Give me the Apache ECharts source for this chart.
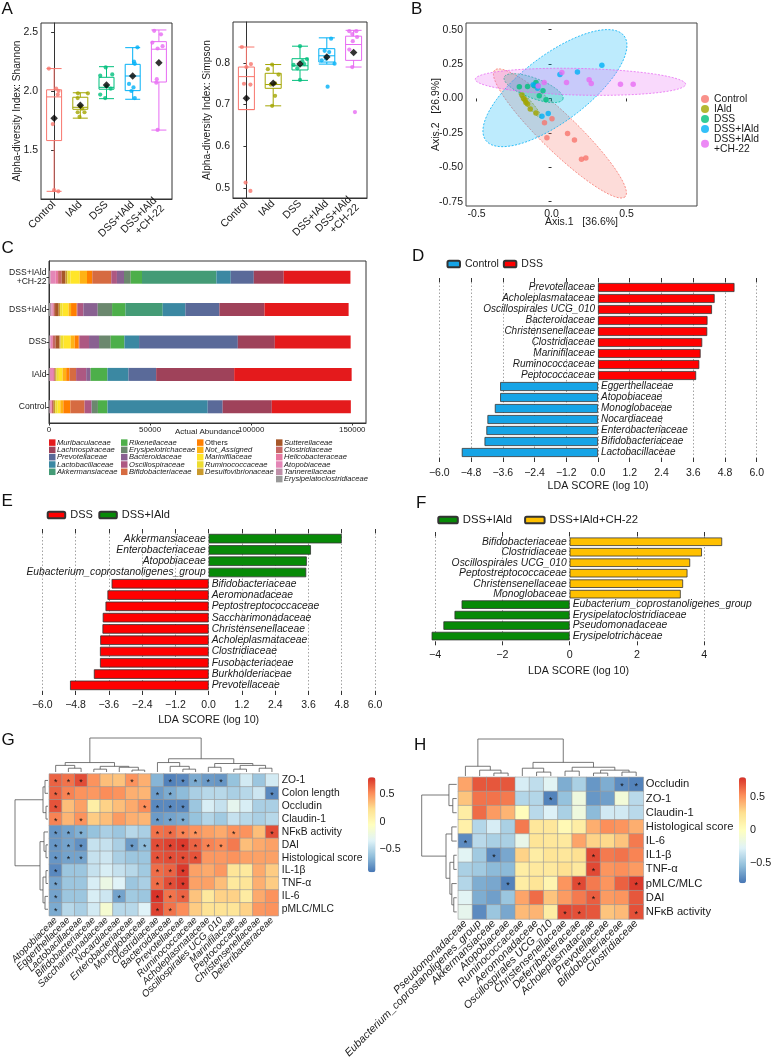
<!DOCTYPE html>
<html><head><meta charset="utf-8">
<script src="https://cdn.jsdelivr.net/npm/echarts@6/dist/echarts.min.js"></script>
<style>html,body{margin:0;padding:0;background:#fff}#c{width:772px;height:1063px}</style>
</head><body><div id="c"></div>
<script>
const FONT = '"Liberation Sans", Arial, Helvetica, sans-serif';
const MINUS = '\u2212';
const TXT = '#1a1a1a';

// ---------- Panel A ----------
const groups = ['Control','IAld','DSS','DSS+IAld','DSS+IAld\n+CH-22'];
const groupColors = ['#F8766D','#A3A500','#00BF7D','#00B0F6','#E76BF3'];
const shannonBox = [[1.15,1.58,1.95,2.01,2.19],[1.77,1.845,1.862,1.947,1.985],[1.935,2.015,2.031,2.116,2.206],[1.93,2.003,2.127,2.226,2.367],[1.669,2.076,2.354,2.418,2.517]];
const shannonMean = [1.77,1.88,2.05,2.127,2.24];
const shannonPoints = [
  [[-0.2,2.19],[0.08,2.02],[0.17,2.0],[0.14,1.97],[-0.05,1.72],[0,1.16],[0.16,1.15]],
  [[-0.09,1.98],[0.29,1.98],[-0.1,1.94],[0,1.87],[0.07,1.85],[-0.1,1.82],[0.16,1.82],[-0.03,1.78]],
  [[-0.03,2.20],[0.22,2.14],[-0.24,2.13],[0,2.04],[0.16,2.02],[-0.24,1.97],[-0.05,1.94]],
  [[0.18,2.37],[0.05,2.25],[0.08,2.23],[-0.14,2.06],[0.03,2.03],[-0.05,2.0],[0.08,1.94]],
  [[-0.18,2.51],[0.08,2.48],[-0.25,2.41],[-0.05,2.36],[0.14,2.38],[-0.08,2.10],[-0.1,2.07],[-0.05,1.67]]
];
const shannonTicks = [1.5,2.0,2.5];
const simpsonBox = [[0.688,0.688,0.767,0.790,0.838],[0.697,0.739,0.748,0.775,0.796],[0.758,0.783,0.793,0.810,0.840],[0.797,0.802,0.817,0.834,0.860],[0.790,0.806,0.844,0.864,0.878]];
const simpsonMean = [0.715,0.751,0.797,0.814,0.825];
const simpsonPoints = [
  [[-0.17,0.838],[0.17,0.797],[0,0.790],[-0.09,0.750],[0.15,0.748],[-0.03,0.513],[0.15,0.493]],
  [[-0.04,0.796],[-0.2,0.785],[0.2,0.772],[0.07,0.751],[-0.09,0.748],[0.07,0.721],[-0.04,0.697]],
  [[0,0.840],[0.26,0.809],[0.09,0.804],[0.16,0.797],[-0.24,0.795],[-0.1,0.787],[0,0.759]],
  [[0.16,0.858],[-0.08,0.829],[0.09,0.826],[-0.03,0.810],[-0.19,0.806],[0.29,0.798],[0.03,0.743]],
  [[-0.16,0.876],[0.1,0.876],[-0.05,0.869],[0.13,0.862],[-0.03,0.852],[-0.16,0.832],[-0.05,0.790],[0.05,0.682]]
];
const simpsonTicks = [0.5,0.6,0.7,0.8];

// ---------- Panel B ----------
const pcoaPoints = [
  [[-0.031,-0.285],[0.107,-0.254],[0.153,-0.302],[0.2,-0.442],[0.229,-0.432],[-0.047,-0.176],[0.003,-0.147]],
  [[-0.197,0.025],[-0.187,0.0],[-0.177,-0.012],[-0.171,-0.029],[-0.16,-0.041],[-0.142,-0.077],[-0.104,-0.106]],
  [[-0.215,0.085],[-0.16,0.087],[-0.115,0.092],[-0.104,0.116],[-0.057,0.056],[-0.082,0.02],[-0.037,-0.009]],
  [[0.336,0.242],[0.173,0.193],[0.056,0.174],[-0.091,0.092],[-0.122,0.099],[-0.093,0.075],[-0.022,-0.109],[-0.064,-0.13]],
  [[0.069,0.188],[0.1,0.116],[0.251,0.136],[0.265,0.109],[0.46,0.104],[0.545,0.104],[-0.049,0.116],[-0.089,0.09]]
];
// ellipse: centre x, centre y, semi-axis u (x,y), conjugate semi-axis v (x,y)
const pcoaEllipses = [
  [0.056,-0.254,0.436,-0.459,-0.084,-0.097],
  [-0.144,-0.046,0.073,-0.092,-0.015,-0.014],
  [-0.12,0.075,0.196,-0.080,-0.023,-0.068],
  [0.0227,0.075,0.462,0.379,0.133,-0.193],
  [0.193,0.121,0.702,-0.017,-0.0067,0.097]
];
const pcoaXTicks = [-0.5,0,0.5];
const pcoaYTicks = [-0.75,-0.5,-0.25,0,0.25,0.5];

// ---------- Panel C ----------
const abundanceGroups = ['Control','IAld','DSS','DSS+IAld','DSS+IAld\n+CH-22'];
const families = ['Muribaculaceae','Lachnospiraceae','Prevotellaceae','Lactobacillaceae','Akkermansiaceae','Rikenellaceae','Erysipelotrichaceae','Bacteroidaceae','Oscillospiraceae','Bifidobacteriaceae','Others','Not_Assigned','Marinifilaceae','Ruminococcaceae','Desulfovibrionaceae','Sutterellaceae','Clostridiaceae','Helicobacteraceae','Atopobiaceae','Tannerellaceae','Erysipelatoclostridiaceae'];
const familyColors = ['#E41A1C','#9F425A','#5A6A99','#3B88A2','#449B76','#4DAF4A','#6B886E','#896191','#AD5882','#D66B41','#FF7F00','#FFB214','#FFE529','#EDDD31','#CA9A2C','#A65628','#C66764','#E778A1','#E486B7','#BF8FA8','#999999'];
const familyAbundance = [
  [39100,58100,37500,41600,33000],
  [24300,38600,18300,22300,14800],
  [7400,13700,48850,16850,11400],
  [49500,10300,7150,11200,7100],
  [200,300,300,18450,36800],
  [4600,8000,6600,6600,5600],
  [3000,300,5750,7100,3300],
  [300,2000,4950,7100,3500],
  [3300,5000,4800,3000,2800],
  [7000,3300,300,300,9400],
  [3500,1600,2000,2800,2600],
  [1500,1800,2000,1200,3600],
  [1300,1800,3500,3000,4600],
  [1200,1200,1500,1200,1500],
  [800,600,500,700,1000],
  [300,300,2000,1800,1800],
  [600,300,1300,800,1800],
  [300,500,400,300,1200],
  [500,1500,800,600,2500],
  [300,300,400,800,500],
  [300,200,300,500,300]
];
const abundanceTicks = [0,50000,100000,150000];

// ---------- Panels D, E, F ----------
const dTaxa = ['Prevotellaceae','Acholeplasmataceae','Oscillospirales UCG_010','Bacteroidaceae','Christensenellaceae','Clostridiaceae','Marinifilaceae','Ruminococcaceae','Peptococcaceae','Eggerthellaceae','Atopobiaceae','Monoglobaceae','Nocardiaceae','Enterobacteriaceae','Bifidobacteriaceae','Lactobacillaceae'];
const dScores = [5.16,4.41,4.31,4.14,4.13,3.94,3.88,3.83,3.71,-3.70,-3.70,-3.90,-4.18,-4.22,-4.29,-5.15];
const dGroups = ['Control','DSS'];
const eTaxa = ['Akkermansiaceae','Enterobacteriaceae','Atopobiaceae','Eubacterium_coprostanoligenes_group','Bifidobacteriaceae','Aeromonadaceae','Peptostreptococcaceae','Saccharimonadaceae','Christensenellaceae','Acholeplasmataceae','Clostridiaceae','Fusobacteriaceae','Burkholderiaceae','Prevotellaceae'];
const eScores = [4.80,3.69,3.54,3.52,-3.50,-3.65,-3.72,-3.82,-3.83,-3.91,-3.92,-3.92,-4.14,-5.00];
const eGroups = ['DSS','DSS+IAld'];
const fTaxa = ['Bifidobacteriaceae','Clostridiaceae','Oscillospirales UCG_010','Peptostreptococcaceae','Christensenellaceae','Monoglobaceae','Eubacterium_coprostanoligenes_group','Erysipelatoclostridiaceae','Pseudomonadaceae','Erysipelotrichaceae'];
const fScores = [4.53,3.93,3.58,3.50,3.37,3.30,-3.21,-3.42,-3.75,-4.10];
const fGroups = ['DSS+IAld','DSS+IAld+CH-22'];
const fTicks = [-4,-2,0,2,4];

// ---------- Panel G ----------
const gRows = ['ZO-1','Colon length','Occludin','Claudin-1','NF\u03baB activity','DAI','Histological score','IL-1\u03b2','TNF-\u03b1','IL-6','pMLC/MLC'];
const gCols = ['Atopobiaceae','Eggerthellaceae','Lactobacillaceae','Bifidobacteriaceae','Saccharimonadaceae','Nocardiaceae','Enterobacteriaceae','Monoglobaceae','Clostridiaceae','Bacteroidaceae','Prevotellaceae','Ruminococcaceae','Acholeplasmataceae','Oscillospirales UCG_010','Marinifilaceae','Peptococcaceae','Christensenellaceae','Deferribacteraceae'];
const gValues = [
  [0.65,0.6,0.72,0.5,0.35,0.33,0.5,0.4,-0.68,-0.88,-0.85,-0.72,-0.78,-0.8,-0.62,-0.4,-0.6,-0.4],
  [0.65,0.55,0.5,0.48,0.52,0.5,0.4,0.38,-0.78,-0.72,-0.65,-0.55,-0.5,-0.5,-0.55,-0.5,-0.42,-0.85],
  [0.7,0.35,0.45,0.1,0.28,0.35,0.42,0.52,-0.85,-0.85,-0.85,-0.6,-0.38,-0.45,-0.3,-0.38,-0.55,-0.55],
  [0.55,0.38,0.5,0.3,0.35,0.47,0.4,0.38,-0.78,-0.75,-0.72,-0.62,-0.52,-0.58,-0.45,-0.5,-0.55,-0.5],
  [-0.8,-0.75,-0.7,-0.62,-0.55,-0.6,-0.5,-0.55,0.6,0.62,0.55,0.5,0.45,0.42,0.5,0.5,0.35,0.72],
  [-0.8,-0.75,-0.82,-0.45,-0.45,-0.55,-0.78,-0.65,0.72,0.75,0.78,0.65,0.55,0.52,0.58,0.35,0.42,0.45],
  [-0.8,-0.75,-0.75,-0.45,-0.42,-0.55,-0.6,-0.6,0.7,0.72,0.72,0.7,0.48,0.48,0.5,0.45,0.45,0.45],
  [-0.85,-0.6,-0.6,-0.45,-0.38,-0.45,-0.5,-0.58,0.62,0.65,0.78,0.45,0.42,0.48,0.18,0.15,0.42,0.3],
  [-0.75,-0.6,-0.6,-0.38,-0.25,-0.35,-0.6,-0.55,0.62,0.72,0.78,0.45,0.45,0.35,0.15,0.18,0.4,0.3],
  [-0.75,-0.6,-0.6,-0.38,-0.42,-0.75,-0.58,-0.6,0.8,0.6,0.65,0.33,0.15,0.28,0.28,0.12,0.42,0.5],
  [-0.72,-0.5,-0.55,-0.4,-0.15,-0.5,-0.5,-0.35,0.75,0.6,0.52,0.3,0.2,0.2,0.18,0.28,0.48,0.5]
];
const gStars = [[0,1,2,6,9,10,11,12,13],[0,1,8,9,17],[0,7,8,9,10],[0,2,8,9,10],[0,1,2,8,9,10,11,14,17],[0,1,2,6,7,8,9,10,11,12,13],[0,1,2,8,9,10,11],[0,8,9,10],[0,8,9,10],[0,5,8,9,10],[0,8,9]];
const gRange = [-0.93,0.81];
const gColTree = [[[0,[1,2,4],7],[[3,4,3],[5,[6,7,2],5],6],10],[[8,[9,[10,11,3],6],10],[[12,13,5],[[14,15,3],[16,17,4],7],9],14],36];
const gRowTree = [[[0,1,3],[2,3,2],5],[[4,[5,6,2],4],[[7,8,2],[9,10,3],5],8],33];

// ---------- Panel H ----------
const hRows = ['Occludin','ZO-1','Claudin-1','Histological score','IL-6','IL1-\u03b2','TNF-\u03b1','pMLC/MLC','DAI','NF\u03baB activity'];
const hCols = ['Pseudomonadaceae','Eubacterium_coprostanoligenes_group','Akkermansiaceae','Atopobiaceae','Ruminococcaceae','Aeromonadaceae','Oscillospirales UCG_010','Christensenellaceae','Deferribacteraceae','Acholeplasmataceae','Prevotellaceae','Bifidobacteriaceae','Clostridiaceae'];
const hValues = [
  [0.45,0.68,0.68,0.68,-0.3,-0.38,-0.25,-0.6,-0.45,-0.68,-0.6,-0.72,-0.75],
  [0.35,0.6,0.6,0.58,-0.42,-0.42,-0.75,-0.52,-0.15,-0.68,-0.65,-0.12,-0.4],
  [0.15,0.62,0.48,0.4,0.02,-0.4,-0.28,-0.45,-0.15,-0.55,-0.32,-0.32,-0.4],
  [0.12,-0.42,-0.3,-0.45,0.58,0.2,0.2,0.05,0.15,0.42,0.52,0.5,0.42],
  [-0.72,-0.4,-0.45,-0.45,-0.2,0.22,0.2,0.18,0.45,0.3,0.28,0.35,0.58],
  [-0.25,-0.48,-0.72,-0.62,0.3,0.15,0.22,0.2,0.25,0.72,0.58,0.6,0.55],
  [-0.45,-0.48,-0.55,-0.55,0.15,0.18,0.18,0.25,0.18,0.72,0.5,0.52,0.48],
  [-0.42,-0.6,-0.62,-0.75,0.15,0.22,0.08,0.5,0.72,0.58,0.5,0.65,0.76],
  [-0.25,-0.6,-0.65,-0.5,0.45,0.62,0.35,0.48,0.58,0.66,0.48,0.5,0.68],
  [-0.22,-0.72,-0.5,-0.62,0.38,0.4,0.15,0.72,0.7,0.68,0.35,0.38,0.7]
];
const hStars = [[11,12],[6],[],[],[0],[2,9],[9],[3,8,12],[9],[7,8,12]];
const hRange = [-0.80,0.79];
const hColTree = [[0,[1,[2,3,3],6],10],[[4,[5,6,4],8],[[7,8,5],[[9,10,3],[11,12,4],6],9],14],38];
const hRowTree = [[0,[1,2,4],8],[[3,4,5],[[5,6,3],[7,[8,9,3],5],7],11],36];
const barTicks = [-0.5,0,0.5];
const heatColors = ['#4575B4','#91BFDB','#E0F3F8','#FFFFBF','#FEE090','#FC8D59','#D73027'];

// ---------- helpers ----------
function hexA(hex, a) {
  const n = parseInt(hex.slice(1), 16);
  return 'rgba(' + ((n >> 16) & 255) + ',' + ((n >> 8) & 255) + ',' + (n & 255) + ',' + a + ')';
}
function pick(ticks, fmt) { return v => ticks.some(t => Math.abs(t - v) < 1e-6) ? fmt(v) : ''; }
const fmtMinus = d => v => (v < -1e-9 ? MINUS : '') + Math.abs(v).toFixed(d);
const stripName = n => n.indexOf(':') >= 0 ? n.slice(n.indexOf(':') + 1) : n;

const grids = [
  {left:41, top:23, width:131, height:176, show:true, borderColor:'#333', borderWidth:1},
  {left:233, top:22, width:134, height:176, show:true, borderColor:'#333', borderWidth:1},
  {left:466, top:23, width:231, height:183, show:true, borderColor:'#444', borderWidth:1},
  {left:49, top:261, width:317, height:162, show:true, borderColor:'#333', borderWidth:1},
  {left:439.3, top:282, width:317.4, height:176},
  {left:42.3, top:533, width:332.7, height:158},
  {left:422, top:536.5, width:313, height:104.8},
  {left:49.3, top:774, width:229, height:141.7},
  {left:49.3, top:738, width:229, height:34},
  {left:15, top:774, width:33, height:141.7},
  {left:368, top:777.3, width:7.5, height:95},
  {left:458.3, top:777.3, width:185, height:141.7},
  {left:458.3, top:739, width:185, height:37},
  {left:421.7, top:777.3, width:35, height:141.7},
  {left:739, top:777.3, width:7, height:106}
].map(g => Object.assign({outerBoundsMode:'none', containLabel:false}, g));

function boxXCat(gi) {
  return {gridIndex:gi, type:'category', data:groups, axisLine:{show:true, lineStyle:{color:'#333'}},
    axisTick:{alignWithLabel:true, length:3, lineStyle:{color:'#333'}},
    axisLabel:{interval:0, rotate:45, fontSize:10.5, color:TXT, margin:4, lineHeight:11, fontFamily:FONT, hideOverlap:false}};
}
function boxY(gi, min, max, ticks, split, name, gap) {
  return {gridIndex:gi, type:'value', min, max, splitNumber:split,
    axisLine:{show:true, lineStyle:{color:'#333'}}, axisTick:{show:true, length:3, customValues:ticks, lineStyle:{color:'#333'}},
    axisLabel:{customValues:ticks, formatter:pick(ticks, v => v.toFixed(1)), fontSize:10.5, color:TXT, margin:3, fontFamily:FONT, hideOverlap:false},
    splitLine:{show:false}, name, nameLocation:'middle', nameGap:gap, nameMoveOverlap:false, nameTextStyle:{fontSize:10.2, color:TXT, fontFamily:FONT}};
}
function ldaX(gi, min, max, pos, opts) {
  return Object.assign({gridIndex:gi, type:'value', min, max, position:pos, axisLine:{show:false},
    axisTick:{show:true, length:4, lineStyle:{color:'#333', width:1}}, splitLine:{show:false}}, opts);
}
const ldaName = {name:'LDA SCORE (log 10)', nameLocation:'middle', nameMoveOverlap:false, nameTextStyle:{fontSize:10.7, color:TXT, fontFamily:FONT}};
const dotted = {show:true, lineStyle:{type:[1.5,2], color:'#8c8c8c', width:0.8}};

const xAxis = [
  boxXCat(0), {gridIndex:0, type:'value', min:-0.5, max:4.5, show:false},
  boxXCat(1), {gridIndex:1, type:'value', min:-0.5, max:4.5, show:false},
  {gridIndex:2, type:'value', min:-0.571, max:0.971, splitNumber:3, axisLine:{show:false},
    axisTick:{show:true, length:3, customValues:pcoaXTicks, lineStyle:{color:'#333'}},
    axisLabel:{customValues:pcoaXTicks, formatter:pick(pcoaXTicks, v => v.toFixed(1)), fontSize:10.5, color:TXT, margin:3, hideOverlap:false},
    splitLine:{show:false}, name:'Axis.1   [36.6%]', nameLocation:'middle', nameGap:10.5, nameMoveOverlap:false, nameTextStyle:{fontSize:10.5, color:TXT}},
  {gridIndex:3, type:'value', min:0, max:156800, splitNumber:3, axisLine:{show:true, lineStyle:{color:'#333'}},
    axisTick:{show:true, length:2.5, customValues:abundanceTicks, lineStyle:{color:'#333'}},
    axisLabel:{customValues:abundanceTicks, formatter:pick(abundanceTicks, v => String(v)), fontSize:7.9, color:TXT, margin:2.5, hideOverlap:false},
    splitLine:{show:false}, name:'Actual Abundance', nameLocation:'middle', nameGap:5, nameMoveOverlap:false, nameTextStyle:{fontSize:8, color:TXT}},
  ldaX(4, -6, 6, 'bottom', Object.assign({interval:1.2, axisLabel:{formatter:fmtMinus(1), fontSize:10.5, color:TXT, margin:9.5, hideOverlap:false}, splitLine:dotted, nameGap:23}, ldaName)),
  ldaX(4, -6, 6, 'top', {interval:1.2, axisLabel:{show:false}}),
  ldaX(5, -6, 6, 'bottom', Object.assign({interval:1.2, axisLabel:{formatter:fmtMinus(1), fontSize:10.5, color:TXT, margin:9, hideOverlap:false}, splitLine:dotted, nameGap:24}, ldaName)),
  ldaX(5, -6, 6, 'top', {interval:1.2, axisLabel:{show:false}}),
  ldaX(6, -4.386, 4.912, 'bottom', Object.assign({axisTick:{show:true, length:4, customValues:fTicks, lineStyle:{color:'#333'}},
    axisLabel:{customValues:fTicks, formatter:pick(fTicks, fmtMinus(0)), fontSize:10.7, color:TXT, margin:8.5, hideOverlap:false}, nameGap:24.5}, ldaName)),
  ldaX(6, -4.386, 4.912, 'top', {axisTick:{show:true, length:4.5, customValues:fTicks, lineStyle:{color:'#333'}}, axisLabel:{show:false}}),
  {gridIndex:7, type:'category', data:gCols, axisLine:{show:false}, axisTick:{show:false},
    axisLabel:{rotate:45, interval:0, fontSize:9.8, fontStyle:'italic', color:TXT, margin:3, hideOverlap:false}},
  {gridIndex:8, type:'value', min:0, max:gCols.length, show:false},
  {gridIndex:9, type:'value', min:0, max:33, inverse:true, show:false},
  {gridIndex:10, type:'value', show:false},
  {gridIndex:11, type:'category', data:hCols, axisLine:{show:false}, axisTick:{show:false},
    axisLabel:{rotate:45, interval:0, fontSize:10.8, fontStyle:'italic', color:TXT, margin:3, hideOverlap:false}},
  {gridIndex:12, type:'value', min:0, max:hCols.length, show:false},
  {gridIndex:13, type:'value', min:0, max:36, inverse:true, show:false},
  {gridIndex:14, type:'value', show:false}
];

function barAxis(gi, min, max, split) {
  return {gridIndex:gi, type:'value', min, max, splitNumber:split, position:'right', axisLine:{show:false}, axisTick:{show:false},
    splitLine:{show:false}, axisLabel:{customValues:barTicks, formatter:pick(barTicks, v => Math.abs(v) < 1e-9 ? '0' : fmtMinus(1)(v)), fontSize:10.8, color:TXT, margin:4, hideOverlap:false}};
}
const yAxis = [
  boxY(0, 1.085, 2.576, shannonTicks, 3, 'Alpha-diversity Index: Shannon', 19),
  boxY(1, 0.476, 0.898, simpsonTicks, 4, 'Alpha-diversity Index: Simpson', 21),
  {gridIndex:2, type:'value', min:-0.781, max:0.548, axisLine:{show:false},
    axisTick:{show:true, length:3, customValues:pcoaYTicks, lineStyle:{color:'#333'}},
    axisLabel:{customValues:pcoaYTicks, formatter:pick(pcoaYTicks, v => v.toFixed(2)), fontSize:10.5, color:TXT, margin:3, hideOverlap:false},
    splitLine:{show:false}, name:'Axis.2   [26.9%]', nameLocation:'middle', nameGap:24, nameMoveOverlap:false, nameTextStyle:{fontSize:10.5, color:TXT}},
  {gridIndex:3, type:'category', data:abundanceGroups, axisLine:{show:true, lineStyle:{color:'#333'}},
    axisTick:{show:true, alignWithLabel:true, length:2.5, lineStyle:{color:'#333'}}, axisLabel:{interval:0, fontSize:8.6, color:TXT, margin:2.5, lineHeight:9.5, hideOverlap:false}},
  {gridIndex:4, type:'category', data:dTaxa, inverse:true, show:false},
  {gridIndex:5, type:'category', data:eTaxa, inverse:true, show:false},
  {gridIndex:6, type:'category', data:fTaxa, inverse:true, show:false},
  {gridIndex:7, type:'category', data:gRows, inverse:true, position:'right', axisLine:{show:false}, axisTick:{show:false},
    axisLabel:{interval:0, fontSize:10.3, color:TXT, margin:3.5, hideOverlap:false}},
  {gridIndex:8, type:'value', min:0, max:36, show:false},
  {gridIndex:9, type:'value', min:0, max:gRows.length, inverse:true, show:false},
  barAxis(10, gRange[0], gRange[1], 3),
  {gridIndex:11, type:'category', data:hRows, inverse:true, position:'right', axisLine:{show:false}, axisTick:{show:false},
    axisLabel:{interval:0, fontSize:11.2, color:TXT, margin:2.5, hideOverlap:false}},
  {gridIndex:12, type:'value', min:0, max:38, show:false},
  {gridIndex:13, type:'value', min:0, max:hRows.length, inverse:true, show:false},
  barAxis(14, hRange[0], hRange[1], 3)
];

const series = [];
function boxPanel(box, means, pts, xc, xv, y, bw) {
  series.push({type:'boxplot', xAxisIndex:xc, yAxisIndex:y, boxWidth:[bw,bw], silent:true,
    data: box.map((b,i) => ({value:b, itemStyle:{color:'rgba(255,255,255,0)', borderColor:groupColors[i], borderWidth:1}}))});
  series.push({type:'scatter', xAxisIndex:xv, yAxisIndex:y, symbolSize:4.2, silent:true, z:3,
    data: pts.flatMap((g,i) => g.map(p => ({value:[i + p[0], p[1]], itemStyle:{color:groupColors[i]}})))});
  series.push({type:'scatter', xAxisIndex:xv, yAxisIndex:y, symbol:'diamond', symbolSize:7.5, silent:true, z:4,
    itemStyle:{color:'#000'}, data: means.map((m,i) => [i, m])});
}
boxPanel(shannonBox, shannonMean, shannonPoints, 0, 1, 0, 15);
boxPanel(simpsonBox, simpsonMean, simpsonPoints, 2, 3, 1, 16);

// B
series.push({type:'custom', xAxisIndex:4, yAxisIndex:2, silent:true, z:1, data:pcoaEllipses, encode:{x:0, y:1},
  renderItem: (params, api) => {
    const c = [api.value(0), api.value(1)], u = [api.value(2), api.value(3)], v = [api.value(4), api.value(5)];
    const pts = [];
    for (let k = 0; k <= 90; k++) {
      const t = k / 90 * 2 * Math.PI;
      pts.push(api.coord([c[0] + u[0]*Math.cos(t) + v[0]*Math.sin(t), c[1] + u[1]*Math.cos(t) + v[1]*Math.sin(t)]));
    }
    const col = groupColors[params.dataIndex];
    return {type:'polygon', shape:{points:pts}, style:{fill:hexA(col, 0.26), stroke:col, lineWidth:0.8, lineDash:[2,1.5]}};
  }});
groups.forEach((g, i) => series.push({name:'B:' + g, type:'scatter', xAxisIndex:4, yAxisIndex:2, symbolSize:5.5, z:3,
  itemStyle:{color:groupColors[i]}, data:pcoaPoints[i]}));

// C
for (let k = families.length - 1; k >= 0; k--) {
  series.push({name:families[k], type:'bar', stack:'abund', xAxisIndex:5, yAxisIndex:3, barWidth:13, silent:true,
    itemStyle:{color:familyColors[k]}, data:familyAbundance[k]});
}

// D E F
function ldaSeries(prefix, names, colors, taxa, scores, xi, yi, bw, fs) {
  return [0,1].map(k => ({
    name: prefix + names[k], type:'bar', xAxisIndex:xi, yAxisIndex:yi, stack:prefix, barWidth:bw, z:10, silent:true,
    data: scores.map(v => (k === 1 ? v > 0 : v < 0) ? v : '-'),
    itemStyle: {color:colors[k], borderColor:'#333', borderWidth:0.8},
    label: {show:true, position: k === 1 ? 'left' : 'right', distance:3, formatter:'{b}', fontSize:fs, fontStyle:'italic', color:TXT, fontFamily:FONT}
  }));
}
const RED = '#FF0000', BLUE = '#16A4E6', GREEN = '#078A07', GOLD = '#FFC000';
series.push(...ldaSeries('D:', dGroups, [BLUE, RED], dTaxa, dScores, 6, 4, 9, 10));
series.push(...ldaSeries('E:', eGroups, [RED, GREEN], eTaxa, eScores, 8, 5, 9.5, 10.3));
const fS = ldaSeries('F:', fGroups, [GREEN, GOLD], fTaxa, fScores, 10, 6, 8.5, 10.3);
fS[0].markLine = {silent:true, symbol:['none','none'], label:{show:false}, z:1,
  lineStyle:{type:[1.5,2], color:'#8c8c8c', width:0.8}, data:fTicks.map(v => ({xAxis:v}))};
series.push(...fS);

// Heatmaps + dendrograms
function treeSegments(tree) {
  const segs = [];
  (function walk(n) {
    if (typeof n === 'number') return {p:n + 0.5, h:0};
    const a = walk(n[0]), b = walk(n[1]), h = n[2];
    segs.push([a.p, a.h, a.p, h], [a.p, h, b.p, h], [b.p, b.h, b.p, h]);
    return {p:(a.p + b.p) / 2, h};
  })(tree);
  return segs;
}
function dendro(tree, xi, yi, rowwise) {
  const segs = treeSegments(tree).map(s => rowwise ? [s[1], s[0], s[3], s[2]] : s);
  return {type:'custom', xAxisIndex:xi, yAxisIndex:yi, silent:true, data:segs, encode:{x:[0,2], y:[1,3]},
    renderItem: (params, api) => {
      const p1 = api.coord([api.value(0), api.value(1)]), p2 = api.coord([api.value(2), api.value(3)]);
      return {type:'line', shape:{x1:p1[0], y1:p1[1], x2:p2[0], y2:p2[1]}, style:{stroke:'#555', lineWidth:0.8}};
    }};
}
function heat(values, stars, xi, yi) {
  const data = [];
  values.forEach((row, r) => row.forEach((v, c) => data.push([c, r, v, stars[r].indexOf(c) >= 0 ? 1 : 0])));
  return {type:'heatmap', xAxisIndex:xi, yAxisIndex:yi, data, silent:true,
    itemStyle:{borderColor:'#9a9a9a', borderWidth:0.6},
    label:{show:true, formatter:p => p.data[3] ? '*' : '', fontSize:9, color:'#111', offset:[0,2.2]}};
}
const gHeatIdx = series.length; series.push(heat(gValues, gStars, 12, 7));
series.push(dendro(gColTree, 13, 8, false));
series.push(dendro(gRowTree, 14, 9, true));
const hHeatIdx = series.length; series.push(heat(hValues, hStars, 16, 11));
series.push(dendro(hColTree, 17, 12, false));
series.push(dendro(hRowTree, 18, 13, true));

// legends
const legText = {fontFamily:FONT, color:TXT};
function cLegend(names, left) {
  return {data:names, orient:'vertical', left, top:438.6, padding:0, itemWidth:6.5, itemHeight:6.5, itemGap:-0.7, icon:'rect', selectedMode:false,
    formatter: n => n === 'Others' ? '{n|Others}' : '{i|' + n + '}',
    textStyle: Object.assign({fontSize:7.6, lineHeight:6.5, rich:{i:{fontStyle:'italic', fontSize:7.6, lineHeight:6.5, fontFamily:FONT, color:TXT, padding:[0,0,0,-3.5]}, n:{fontSize:7.6, lineHeight:6.5, fontFamily:FONT, color:TXT, padding:[0,0,0,-3.5]}}}, legText)};
}
const legend = [
  {data:groups.map(g => 'B:' + g), orient:'vertical', left:701, top:94, padding:0, itemWidth:8, itemHeight:8, itemGap:0, icon:'circle',
    selectedMode:false, formatter:stripName, textStyle:Object.assign({fontSize:10.3, lineHeight:9.7}, legText)},
  cLegend(families.slice(0,5), 49), cLegend(families.slice(5,10), 121), cLegend(families.slice(10,15), 197), cLegend(families.slice(15), 276),
  {data:dGroups.map(g => 'D:' + g), left:446.5, top:258.5, padding:0, itemWidth:12.5, itemHeight:6.5, itemGap:4, selectedMode:false,
    formatter:stripName, textStyle:Object.assign({fontSize:10.5}, legText)},
  {data:eGroups.map(g => 'E:' + g), left:46.7, top:509.5, padding:0, itemWidth:17.5, itemHeight:6.5, itemGap:5.5, selectedMode:false,
    formatter:stripName, textStyle:Object.assign({fontSize:11}, legText)},
  {data:fGroups.map(g => 'F:' + g), left:437.3, top:514.5, padding:0, itemWidth:19.5, itemHeight:6.5, itemGap:12, selectedMode:false,
    formatter:stripName, textStyle:Object.assign({fontSize:11.3}, legText)}
];

const visualMap = [
  {type:'continuous', seriesIndex:gHeatIdx, dimension:2, min:gRange[0], max:gRange[1], inRange:{color:heatColors},
    calculable:false, show:true, left:368, top:777.3, itemWidth:7.5, itemHeight:95, padding:0, text:null, hoverLink:false},
  {type:'continuous', seriesIndex:hHeatIdx, dimension:2, min:hRange[0], max:hRange[1], inRange:{color:heatColors},
    calculable:false, show:true, left:739, top:777.3, itemWidth:7, itemHeight:106, padding:0, text:null, hoverLink:false}
];

const letters = [['A',1.5,0.5],['B',411,0.5],['C',1.5,239.5],['D',412,247.5],['E',1.5,493],['F',416,494.5],['G',1.5,732],['H',414,736.5]];
const graphic = letters.map(l => ({type:'text', left:l[1], top:l[2], silent:true,
  style:{text:l[0], fontSize:17, fontFamily:FONT, fill:'#111'}}));

const chart = echarts.init(document.getElementById('c'), null, {renderer:'canvas', width:772, height:1063});
chart.setOption({
  animation:false, backgroundColor:'#fff', textStyle:{fontFamily:FONT},
  grid:grids, xAxis, yAxis, series, legend, visualMap, graphic, tooltip:{show:false}
});
</script></body></html>
